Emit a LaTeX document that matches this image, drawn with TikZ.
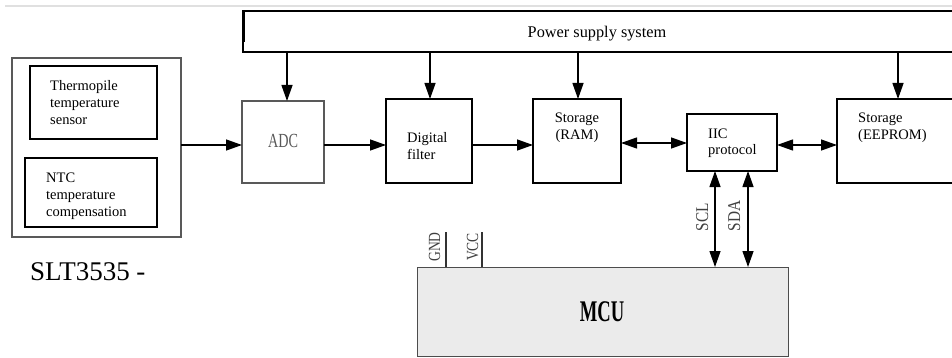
\documentclass[tikz,border=0pt]{standalone}
\usepackage{fontspec}
\setmainfont{Liberation Serif}
\usetikzlibrary{arrows.meta}
\begin{document}
\begin{tikzpicture}[x=1pt,y=-1pt,
  blk/.style={draw=black, line width=1.8pt, inner sep=0pt, outer sep=0pt, anchor=north west},
  thinblk/.style={draw=black!65, line width=1.1pt, inner sep=0pt, outer sep=0pt, anchor=north west},
  conn/.style={line width=1.3pt, -{Triangle[length=16pt,width=11pt]}},
  dconn/.style={line width=1.3pt, {Triangle[length=16pt,width=11pt]}-{Triangle[length=16pt,width=11pt]}},
  txt/.style={font=\fontsize{14.5}{17}\selectfont, inner sep=0pt, align=left, anchor=base west},
  pin/.style={font=\fontsize{18}{20}\selectfont, text=black!75, inner sep=0pt, rotate=90, anchor=base},
  pinline/.style={line width=1.1pt, draw=black!80},
]
\useasboundingbox (0,0) rectangle (952,358);
\draw[black!12, line width=2pt] (5,6) -- (952,6);

% blocks
\node[thinblk, minimum width=169pt, minimum height=179pt] (sensor) at (12,58) {};
\node[blk, minimum width=127pt, minimum height=73pt] (thermo) at (30,66) {};
\node[blk, minimum width=132pt, minimum height=69pt] (ntc) at (25,158) {};
\node[thinblk, minimum width=82pt, minimum height=82pt] (adc) at (242,101) {};
\node[blk, minimum width=86pt, minimum height=84pt] (filter) at (386,99) {};
\node[blk, minimum width=88pt, minimum height=84pt] (ram) at (533,99) {};
\node[blk, minimum width=90pt, minimum height=57pt] (iic) at (687,114) {};
\node[blk, minimum width=130pt, minimum height=84pt] (eeprom) at (837,99) {};
\node[blk, minimum width=730pt, minimum height=41pt] (psu) at (243,11) {};
\draw[line width=3pt] (psu.north west) -- ++(0,31);
\node[draw=black!70, fill=black!8, line width=1pt, inner sep=0pt, outer sep=0pt,
      anchor=north west, minimum width=371pt, minimum height=89pt] (mcu) at (417,267) {};

% texts (base anchor = baseline of the last line)
\node[txt] (t1) at (50,125) {Thermopile\\temperature\\sensor};
\node[txt] (t2) at (46,216) {NTC\\temperature\\compensation};
\node[font=\fontsize{20}{22}\selectfont, text=black!65, inner sep=0pt, anchor=base] (tadc) at (283,148) {\scalebox{0.71}[1]{ADC}};
\node[txt] (tf) at (407,160) {Digital\\filter};
\node[txt, align=center, anchor=base] (tr) at (577,140) {Storage\\(RAM)};
\node[txt] (ti) at (708,155) {IIC\\protocol};
\node[txt] (te) at (858,140) {Storage\\(EEPROM)};
\node[font=\fontsize{16.3}{19}\selectfont, anchor=base, inner sep=0pt] (tp) at (597,38) {Power supply system};
\node[font=\fontsize{27}{30}\selectfont, anchor=base west, inner sep=0pt] (ts) at (30,280) {SLT3535 -};
\node[font=\bfseries\fontsize{30}{32}\selectfont, anchor=base, inner sep=0pt] (tm) at (602,321) {\scalebox{0.62}[1]{MCU}};

% connectors
\draw[conn] (sensor.east |- 0,145) -- (adc.west |- 0,145);
\draw[conn] (adc.east |- 0,145) -- (filter.west |- 0,145);
\draw[conn] (filter.east |- 0,145) -- (ram.west |- 0,145);
\draw[dconn] (ram.east |- 0,143) -- (iic.west |- 0,143);
\draw[dconn] (iic.east |- 0,145) -- (eeprom.west |- 0,145);
\draw[conn] (psu.south -| 287,0) -- (adc.north -| 287,0);
\draw[conn] (psu.south -| 430,0) -- (filter.north -| 430,0);
\draw[conn] (psu.south -| 578,0) -- (ram.north -| 578,0);
\draw[conn] (psu.south -| 898,0) -- (eeprom.north -| 898,0);
\draw[dconn] (iic.south -| 715,0) -- (mcu.north -| 715,0);
\draw[dconn] (iic.south -| 748,0) -- (mcu.north -| 748,0);

% pins
\coordinate (gndtop) at (446,232);
\coordinate (vcctop) at (482,232);
\draw[pinline] (gndtop) -- (mcu.north -| gndtop);
\draw[pinline] (vcctop) -- (mcu.north -| vcctop);
\node[pin, font=\fontsize{17}{19}\selectfont] (lg) at (440,247) {\scalebox{0.8}[1]{GND}};
\node[pin, font=\fontsize{17}{19}\selectfont] (lv) at (478,247) {\scalebox{0.8}[1]{VCC}};
\node[pin] (lscl) at (708,217) {\scalebox{0.85}[1]{SCL}};
\node[pin] (lsda) at (740,216) {\scalebox{0.85}[1]{SDA}};
\end{tikzpicture}
\end{document}
